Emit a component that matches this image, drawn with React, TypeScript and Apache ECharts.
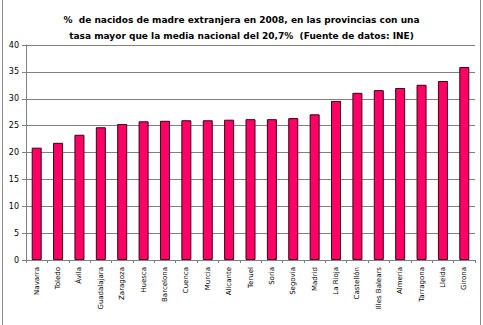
import React, { useEffect, useRef } from "react";
import * as echarts from "echarts";

const provinces = [
  "Navarra", "Toledo", "Ávila", "Guadalajara", "Zaragoza", "Huesca", "Barcelona",
  "Cuenca", "Murcia", "Alicante", "Teruel", "Soria", "Segovia", "Madrid",
  "La Rioja", "Castellón", "Illes Balears", "Almería", "Tarragona", "Lleida", "Girona",
];
const values = [
  20.9, 21.8, 23.3, 24.7, 25.3, 25.8, 25.9,
  26.0, 26.0, 26.1, 26.2, 26.2, 26.4, 27.1,
  29.6, 31.1, 31.6, 32.0, 32.6, 33.3, 35.9,
];
const titleLines = [
  "%  de nacidos de madre extranjera en 2008, en las provincias con una",
  "tasa mayor que la media nacional del 20,7%  (Fuente de datos: INE)",
];

export default function App() {
  const ref = useRef<HTMLDivElement>(null);
  useEffect(() => {
    document.body.style.margin = "0";
    const chart = echarts.init(ref.current!, null, { renderer: "svg" });
    chart.setOption({
      animation: false,
      backgroundColor: "#ffffff",
      title: {
        text: titleLines.join("\n"),
        left: "center",
        top: 7,
        textStyle: {
          fontFamily: "DejaVu Sans",
          fontSize: 9,
          fontWeight: "bold",
          lineHeight: 16,
          color: "#000",
        },
      },
      graphic: [
        { type: "line", shape: { x1: 2.5, y1: 0, x2: 2.5, y2: 325 }, style: { stroke: "#8c8c8c", lineWidth: 1 } },
        { type: "line", shape: { x1: 480.5, y1: 0, x2: 480.5, y2: 325 }, style: { stroke: "#8c8c8c", lineWidth: 1 } },
      ],
      grid: { left: 26, right: 8, top: 45, bottom: 65, containLabel: false },
      xAxis: {
        type: "category",
        data: provinces,
        axisLine: { lineStyle: { color: "#808080" } },
        axisTick: { show: true, length: 3, lineStyle: { color: "#808080" } },
        axisLabel: {
          rotate: 90,
          interval: 0,
          fontFamily: "DejaVu Sans",
          fontSize: 7,
          color: "#000",
          margin: 7,
        },
      },
      yAxis: {
        type: "value",
        min: 0,
        max: 40,
        interval: 5,
        axisLine: { show: true, lineStyle: { color: "#808080" } },
        axisTick: { show: true, length: 4, lineStyle: { color: "#808080" } },
        splitLine: { lineStyle: { color: "#808080", width: 1 } },
        axisLabel: {
          fontFamily: "DejaVu Sans",
          fontSize: 8,
          color: "#000",
          margin: 7,
        },
      },
      series: [
        {
          type: "bar",
          data: values,
          barWidth: 10,
          itemStyle: { color: "#ff0066", borderColor: "#3a0010", borderWidth: 1 },
        },
      ],
    });
    return () => chart.dispose();
  }, []);
  return <div ref={ref} style={{ width: 483, height: 325 }} />;
}
